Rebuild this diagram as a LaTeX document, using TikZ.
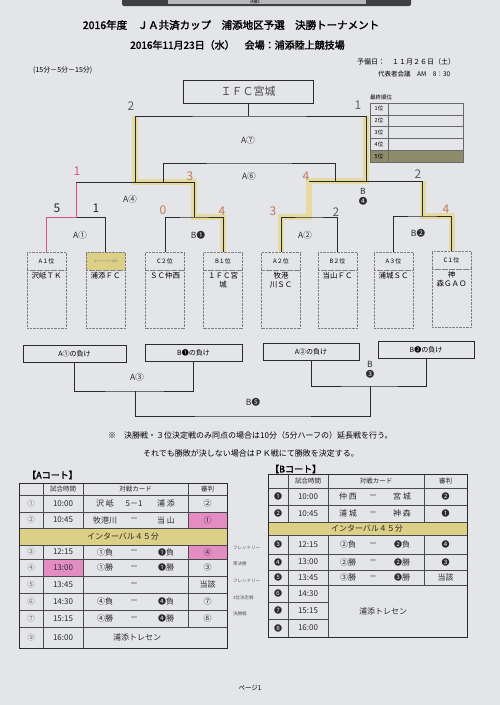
\documentclass[tikz,border=0pt]{standalone}
\usepackage{fontspec}
\setmainfont{Noto Sans CJK JP}[AutoFakeBold=2]
\usetikzlibrary{positioning,calc}
\definecolor{paper}{HTML}{E4E5E9}
\definecolor{ink}{HTML}{2A2A2E}
\definecolor{rosy}{HTML}{D9547A}
\definecolor{marker}{HTML}{E6D888}
\definecolor{band}{HTML}{DCCF86}
\definecolor{pinkcell}{HTML}{E48CC4}
\definecolor{fifth}{HTML}{8C8B6C}
\definecolor{pencil}{HTML}{C07A55}
\tikzset{
  wire/.style={draw=ink,line width=0.6pt},
  lead/.style={draw=rosy,line width=1pt},
  glow/.style={draw=marker,line width=6pt,opacity=0.75},
  rank/.style={draw=ink!60,densely dotted,minimum width=39pt,minimum height=18pt,
    inner sep=0pt,font=\fontsize{6}{7}\selectfont},
  slot/.style={draw=ink!60,densely dotted,minimum width=39pt,minimum height=58pt,inner sep=0pt},
  club/.style={align=center,inner sep=1pt,font=\fontsize{7.5}{9}\selectfont},
  game/.style={font=\fontsize{8.5}{10}\selectfont,text=ink},
  score/.style={font=\fontsize{12}{12}\selectfont,text=ink!75},
  loser/.style={draw=ink,line width=0.6pt,minimum height=17pt,inner sep=0pt,
    font=\fontsize{7}{8}\selectfont},
  cell/.style={font=\fontsize{8}{9}\selectfont,inner sep=0pt,text=ink},
  head/.style={font=\fontsize{6.5}{7}\selectfont,inner sep=0pt,text=ink},
  num/.style={font=\fontsize{7.5}{8}\selectfont,inner sep=0pt,text=ink!70},
  grid/.style={draw=ink!85,line width=0.5pt},
  frame/.style={draw=ink,line width=1pt},
  tiny/.style={font=\fontsize{4.5}{5}\selectfont,text=ink!80,inner sep=0pt,anchor=west},
}

\begin{document}
\begin{tikzpicture}[x=1pt,y=-1pt]
  \useasboundingbox[fill=paper] (0,0) rectangle (500,705);
  % clip on top of the sheet
  \fill[ink!90,rounded corners=2pt] (122,-4) rectangle (411,6);
  \fill[gray!55] (168,-4) rectangle (366,3.5);
  \node[font=\fontsize{4}{4}\selectfont,inner sep=0pt] (clip) at (255,1.5) {決勝1};

  % heading
  \node[font=\fontsize{10.5}{12}\selectfont\bfseries] (title) at (231,25) {2016年度　ＪＡ共済カップ　浦添地区予選　決勝トーナメント};
  \node[font=\fontsize{10}{12}\selectfont\bfseries] (date) at (237.5,45) {2016年11月23日（水）　会場：浦添陸上競技場};
  \node[font=\fontsize{7}{8}\selectfont,anchor=west,inner sep=0pt] (time) at (33,70) {(15分－5分－15分)};
  \node[font=\fontsize{7}{8}\selectfont,anchor=west,inner sep=0pt] (spare) at (357,62) {予備日：　１１月２６日（土）};
  \node[font=\fontsize{6.5}{8}\selectfont,anchor=west,inner sep=0pt] (meet) at (378,74) {代表者会議　AM　8：30};

  % final standings
  \node[font=\fontsize{5.5}{6}\selectfont,anchor=west,inner sep=0pt] (order) at (370,97) {最終順位};
  \fill[fifth] (370,150.2) rectangle (463,162);
  \draw[ink!70,line width=0.4pt] (370,103) rectangle (463,162) (388,103) -- (388,162);
  \foreach \k in {1,...,4}
    \draw[ink!70,line width=0.4pt] (370,{103+11.8*\k}) -- (463,{103+11.8*\k});
  \foreach \k in {1,...,5}
    \node[font=\fontsize{5.5}{6}\selectfont,inner sep=0pt] (pl\k) at (379,{97.1+11.8*\k}) {{\k}位};

  % teams
  \node[rank] (h1) at (46.5,261) {A１位};
  \node[rank,fill=band] (h2) at (105.5,261) {\fontsize{3}{3}\selectfont\color{ink!60}オラリンピア浦添};
  \node[rank] (h3) at (165,261) {C２位};
  \node[rank] (h4) at (223,261) {B１位};
  \node[rank] (h5) at (281,261) {A２位};
  \node[rank] (h6) at (337.5,261) {B２位};
  \node[rank] (h7) at (393.5,261) {A３位};
  \node[rank] (h8) at (451.5,260) {C１位};
  \foreach \t/\name in {1/沢岻ＴＫ,2/浦添ＦＣ,3/ＳＣ仲西,4/１ＦＣ宮\\城,
                         5/牧港\\川ＳＣ,6/当山ＦＣ,7/浦城ＳＣ,8/神\\森ＧＡＯ} {
    \node[slot,below=0pt of h\t] (b\t) {};
    \node[club,below=1pt of b\t.north] (n\t) {\name};
  }

  % junctions
  \coordinate (jA1) at (76,217);
  \coordinate (jB1) at (194,217);
  \coordinate (jA2) at (309,217);
  \coordinate (jB2) at (422.5,216);
  \coordinate (jA4) at (135,182);
  \coordinate (jB4) at (366,181);
  \coordinate (jA7) at (248,116);
  \coordinate (jA6) at (249,163);
  \coordinate (a6l) at (163,182);
  \coordinate (a6r) at (335,181);

  % marker on the winners
  \draw[glow] (h4.north) |- (jB1) |- (jA4) -- (jA4 |- jA7);
  \draw[glow] (h5.north) |- (jA2) |- (jB4) -- (jB4 |- jA7);
  \draw[glow] (h8.north) |- (jB2) -- (jB2 |- jB4);

  \node[draw=ink,line width=0.7pt,minimum width=130pt,minimum height=23pt,
    font=\fontsize{11}{12}\selectfont,text=ink!85] (champ) at (248,91.5) {ＩＦＣ宮城};
  \draw[wire] (jA1) -| (h2.north);
  \draw[lead] (h1.north) |- (jA1) -- (jA1 |- jA4);
  \draw[wire] (h3.north) |- (jB1) -| (h4.north);
  \draw[wire] (h5.north) |- (jA2) -| (h6.north);
  \draw[wire] (h7.north) |- (jB2) -| (h8.north);
  \draw[wire] (jA1 |- jA4) -| (jB1);
  \draw[wire] (jA2 |- jB4) -| (jB2);
  \draw[wire] (jA4) |- (jA7) -| (jB4);
  \draw[wire] (jA7) -- (champ.south);
  \draw[wire] (a6l) |- (jA6) -| (a6r);

  \node[game] (gA7) at (248,140) {A⑦};
  \node[game] (gA6) at (249,176) {A⑥};
  \node[game] (gA4) at (130,199) {A④};
  \node[game,align=center,inner sep=0pt] (gB4) at (363,197) {B\\❹};
  \node[game] (gA1) at (80,235) {A①};
  \node[game] (gB1) at (198,235) {B❶};
  \node[game] (gA2) at (305,235) {A②};
  \node[game] (gB2) at (418,233) {B❷};

  % scores written by hand
  \node[score] (s7l) at (131,106) {2};
  \node[score] (s7r) at (358,105) {1};
  \node[score,text=rosy] (s4l) at (77,171) {1};
  \node[score,text=pencil] (s4r) at (190,176) {3};
  \node[score,text=pencil] (sb4l) at (306,176) {4};
  \node[score] (sb4r) at (418,174) {2};
  \node[score,text=ink] (s1l) at (57,208) {5};
  \node[score,text=ink] (s1r) at (96,208) {1};
  \node[score,text=pencil] (sb1l) at (163,210) {0};
  \node[score,text=pencil] (sb1r) at (222,211) {4};
  \node[score,text=pencil] (s2l) at (273,211) {3};
  \node[score] (s2r) at (336,212) {2};
  \node[score,text=pencil] (sb2r) at (446,209) {4};

  % losers bracket
  \node[loser,minimum width=103pt] (l1) at (74.5,354) {A①の負け};
  \node[loser,minimum width=97pt] (l2) at (193.5,353) {B❶の負け};
  \node[loser,minimum width=96pt] (l3) at (311,351.5) {A②の負け};
  \node[loser,minimum width=96pt] (l4) at (426,350) {B❷の負け};
  \coordinate (jA3) at (135,391);
  \coordinate (jB3) at (370,386);
  \coordinate (jB5) at (253,416);
  \draw[wire] (l1.south) |- (jA3) -| (l2.south);
  \draw[wire] (l3.south) |- (jB3) -| (l4.south);
  \draw[wire] (jA3) |- (jB5) -| (jB3);
  \node[game] (gA3) at (137,377) {A③};
  \node[game,align=center,inner sep=0pt] (gB3) at (370,370) {B\\❸};
  \node[game] (gB5) at (253,402) {B❺};

  % notes
  \node[font=\fontsize{8}{9}\selectfont,anchor=west,inner sep=0pt] (note1) at (108,435)
    {※　決勝戦・３位決定戦のみ同点の場合は10分（5分ハーフの）延長戦を行う。};
  \node[font=\fontsize{8}{9}\selectfont,anchor=west,inner sep=0pt] (note2) at (143,453)
    {それでも勝敗が決しない場合はＰＫ戦にて勝敗を決定する。};

  % A court
  \node[font=\fontsize{9}{10}\selectfont\bfseries,anchor=west,inner sep=0pt] (courtA) at (27,475) {【Aコート】};
  \fill[band] (19,528) rectangle (227,545);
  \fill[pinkcell] (188,512) rectangle (227,528);
  \fill[pinkcell] (188,545) rectangle (227,559);
  \fill[pinkcell] (43,559) rectangle (83,576);
  \foreach \y in {495,512,528,545,559,576,593,610,627}
    \draw[grid] (19,\y) -- (227,\y);
  \foreach \x in {43,83,188}
    \draw[grid] (\x,483) -- (\x,528) (\x,545) -- (\x,627);
  \draw[grid] (43,627) -- (43,648) (83,627) -- (83,648);
  \draw[frame] (19,483) rectangle (227,648);
  \node[head] (aht) at (63,489) {試合時間};
  \node[head] (ahc) at (135.5,489) {対戦カード};
  \node[head] (ahr) at (207.5,489) {審判};
  \node[cell] (abr) at (123,536.5) {インターバル４５分};
  \foreach \i/\y/\no/\tm/\pa/\pm/\pb/\rf in {
    1/503.5/①/10:00/沢 岻/5－1/浦 添/②,
    2/520/②/10:45/牧港川/－/当 山/①,
    3/552/③/12:15/①負/－/❶負/④,
    4/567.5/④/13:00/①勝/－/❶勝/③,
    5/584.5/⑤/13:45//－//当該,
    6/601.5/⑥/14:30/④負/－/❹負/⑦,
    7/618.5/⑦/15:15/④勝/－/❹勝/⑥} {
    \node[num] (an\i) at (31,\y) {\no};
    \node[cell] (at\i) at (63,\y) {\tm};
    \node[cell] (al\i) at (105,\y) {\pa};
    \node[cell] (am\i) at (134,\y) {\pm};
    \node[cell] (ar\i) at (166,\y) {\pb};
    \node[cell] (aj\i) at (207.5,\y) {\rf};
  }
  \node[num] (an9) at (31,637.5) {⑨};
  \node[cell] (at9) at (63,637.5) {16:00};
  \node[cell] (atr) at (137,637.5) {浦添トレセン};

  % round names between the courts
  \node[tiny] (k1) at (233,548) {フレンドリー};
  \node[tiny] (k2) at (233,564) {準決勝};
  \node[tiny] (k3) at (233,581) {フレンドリー};
  \node[tiny] (k4) at (233,598) {3位決定戦};
  \node[tiny] (k5) at (233,614) {決勝戦};

  % B court
  \node[font=\fontsize{9}{10}\selectfont\bfseries,anchor=west,inner sep=0pt] (courtB) at (270,469) {【Bコート】};
  \fill[band] (268,522) rectangle (467,535);
  \foreach \y in {488,505,522,535,554,570,585}
    \draw[grid] (268,\y) -- (467,\y);
  \draw[grid] (268,602) -- (328,602) (268,619) -- (328,619);
  \foreach \x in {288,328}
    \draw[grid] (\x,474) -- (\x,522) (\x,535) -- (\x,637);
  \draw[grid] (424,474) -- (424,522) (424,535) -- (424,585);
  \draw[frame] (268,474) rectangle (467,637);
  \node[head] (bht) at (308,481) {試合時間};
  \node[head] (bhc) at (376,481) {対戦カード};
  \node[head] (bhr) at (445.5,481) {審判};
  \node[cell] (bbr) at (367,528.5) {インターバル４５分};
  \foreach \i/\y/\no/\tm/\pa/\pb/\rf in {
    1/496.5/❶/10:00/仲 西/宮 城/❷,
    2/513.5/❷/10:45/浦 城/神 森/❶,
    3/544.5/❸/12:15/②負/❷負/❹,
    4/562/❹/13:00/②勝/❷勝/❸,
    5/577.5/❺/13:45/③勝/❸勝/当該} {
    \node[cell] (bn\i) at (278,\y) {\no};
    \node[cell] (bt\i) at (308,\y) {\tm};
    \node[cell] (bl\i) at (348,\y) {\pa};
    \node[cell] (bm\i) at (373,\y) {－};
    \node[cell] (br\i) at (402,\y) {\pb};
    \node[cell] (bj\i) at (445.5,\y) {\rf};
  }
  \foreach \i/\y/\no/\tm in {6/593.5/❻/14:30,7/610.5/❼/15:15,8/628/❽/16:00} {
    \node[cell] (bn\i) at (278,\y) {\no};
    \node[cell] (bt\i) at (308,\y) {\tm};
  }
  \node[cell] (btr) at (383,611) {浦添トレセン};

  \node[font=\fontsize{6.5}{7}\selectfont] (page) at (250,688) {ページ1};
\end{tikzpicture}
\end{document}
